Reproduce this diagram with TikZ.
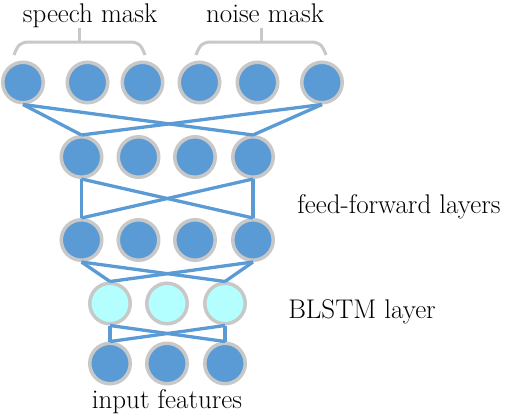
\documentclass[tikz,border=0pt]{standalone}
\definecolor{nblue}{HTML}{5B9BD5}
\definecolor{ngrey}{HTML}{C8C8C8}
\definecolor{ncyan}{HTML}{B3FFFF}
\tikzset{
  unit/.style={circle, inner sep=0pt, minimum size=40.5pt, line width=3.5pt, draw=ngrey, fill=nblue},
  lstm/.style={unit, fill=ncyan},
  conn/.style={draw=nblue, line width=3.3pt},
  brace/.style={draw=ngrey, line width=3pt},
  lbl/.style={anchor=base, inner sep=0pt, font=\fontsize{27}{32}\selectfont}
}
\begin{document}
\begin{tikzpicture}[x=1pt,y=-1pt]
\useasboundingbox (0,0) rectangle (506,418);
% output layer
\node[unit] (o1) at (23,82.5) {};
\node[unit] (o2) at (87.5,82.5) {};
\node[unit] (o3) at (142.5,82.5) {};
\node[unit] (o4) at (199.5,82.5) {};
\node[unit] (o5) at (257.5,82.5) {};
\node[unit] (o6) at (322,82.5) {};
% hidden 2
\node[unit] (h1) at (81.5,157) {};
\node[unit] (h2) at (138.5,157) {};
\node[unit] (h3) at (195,157) {};
\node[unit] (h4) at (253,157) {};
% hidden 1
\node[unit] (g1) at (81.5,240) {};
\node[unit] (g2) at (138.5,240) {};
\node[unit] (g3) at (195,240) {};
\node[unit] (g4) at (253,240) {};
% BLSTM
\node[lstm] (b1) at (110,303.5) {};
\node[lstm] (b2) at (167,303.5) {};
\node[lstm] (b3) at (225,303.5) {};
% input
\node[unit] (i1) at (110,363.5) {};
\node[unit] (i2) at (167,363.5) {};
\node[unit] (i3) at (225,363.5) {};
% connections
\draw[conn] (o1.south) -- (h1.north);
\draw[conn] (o1.south) -- (h4.north);
\draw[conn] (o6.south) -- (h1.north);
\draw[conn] (o6.south) -- (h4.north);
\draw[conn] (h1.south) -- (g1.north);
\draw[conn] (h1.south) -- (g4.north);
\draw[conn] (h4.south) -- (g1.north);
\draw[conn] (h4.south) -- (g4.north);
\draw[conn] (g1.south) -- (b1.north);
\draw[conn] (g1.south) -- (b3.north);
\draw[conn] (g4.south) -- (b1.north);
\draw[conn] (g4.south) -- (b3.north);
\draw[conn] (b1.south) -- (i1.north);
\draw[conn] (b1.south) -- (i3.north);
\draw[conn] (b3.south) -- (i1.north);
\draw[conn] (b3.south) -- (i3.north);
% braces
\draw[brace] (14,55) .. controls (18,44) and (21,42) .. (30,42) -- (129,42) .. controls (138,42) and (141,44) .. (145,55);
\draw[brace] (79,42) -- (79,28);
\draw[brace] (196,55) .. controls (200,44) and (203,42) .. (212,42) -- (310,42) .. controls (319,42) and (322,44) .. (326,55);
\draw[brace] (261,42) -- (261,28);
% labels
\node[lbl] (ls) at (90,22) {speech mask};
\node[lbl] (ln) at (265,22) {noise mask};
\node[lbl] (lf) at (399,213) {feed-forward layers};
\node[lbl] (lb) at (362,318) {BLSTM layer};
\node[lbl] (li) at (167,408) {input features};
\end{tikzpicture}
\end{document}
